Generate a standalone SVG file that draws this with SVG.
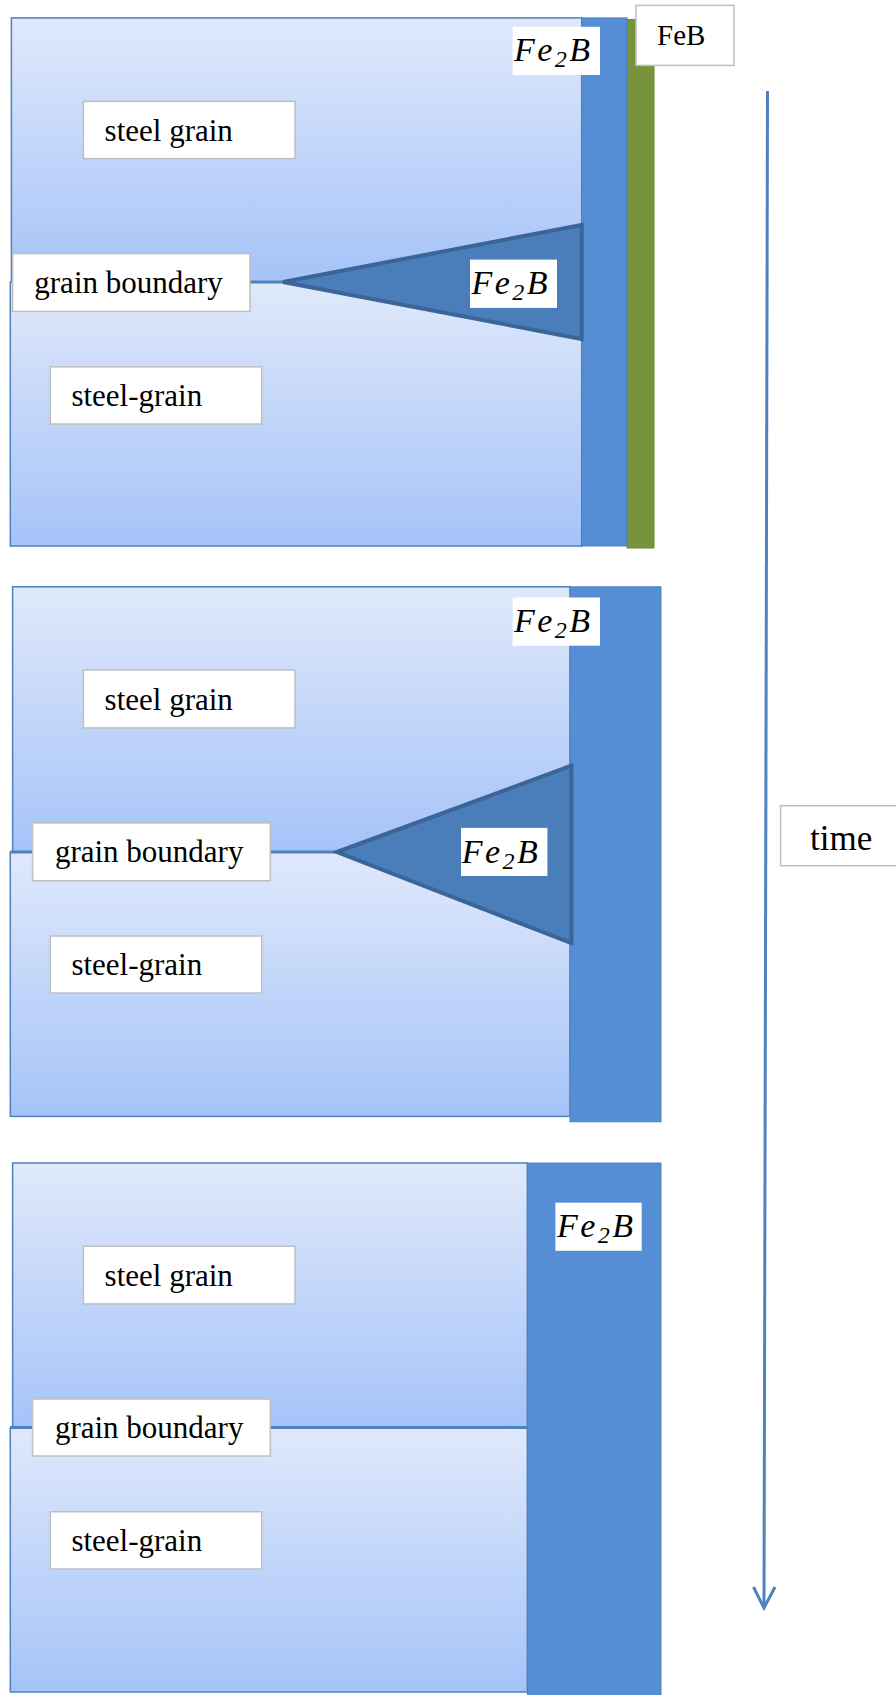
<svg xmlns="http://www.w3.org/2000/svg" width="896" height="1695" viewBox="0 0 896 1695">
<defs>
<linearGradient id="grain" x1="0" y1="0" x2="0" y2="1">
<stop offset="0" stop-color="#e0e9fb"/>
<stop offset="1" stop-color="#a5c3f8"/>
</linearGradient>
<style>
.grain{fill:url(#grain);stroke:#4f81bd;stroke-width:1.5}
.fe2b{fill:#558ed5;stroke:#4f81bd;stroke-width:1}
.feb{fill:#77933c;stroke:#6a8535;stroke-width:1}
.tri{fill:#4a7ebb;stroke:#3b6497;stroke-width:4;stroke-linejoin:miter}
.box{fill:#ffffff;stroke:#bfbfbf;stroke-width:1.5}
.wbox{fill:#ffffff;stroke:none}
.lbl{font-family:"Liberation Serif","Times New Roman",serif;font-size:31px;fill:#000}
.math{font-family:"Liberation Serif","Times New Roman",serif;font-style:italic;font-size:34px;letter-spacing:2.5px;fill:#000}
.sub{font-size:24px}
.gb{stroke:#4f81bd;stroke-width:3;fill:none}
.conn{stroke:#4f81bd;stroke-width:3;fill:none}
</style>
</defs>

<g id="panel1">
<rect class="grain" x="11.4" y="17.9" width="570.3" height="264.1"/>
<rect class="grain" x="10.3" y="282" width="571.4" height="264"/>
<rect class="feb" x="627" y="19.6" width="27" height="528.4"/>
<rect class="fe2b" x="581.7" y="17.9" width="45.3" height="528.1"/>
<line class="gb" x1="250" y1="282" x2="283" y2="282"/>
<polygon class="tri" points="283,282 581.7,225 581.7,339"/>
</g>

<g id="panel2">
<rect class="grain" x="12.6" y="586.8" width="557.4" height="265.2"/>
<rect class="grain" x="10.3" y="852" width="559.7" height="264.4"/>
<rect class="fe2b" x="570" y="586.8" width="91" height="535"/>
<line class="gb" x1="10.3" y1="852" x2="337" y2="852"/>
<polygon class="tri" points="337,852 571.4,765.7 571.4,943.2"/>
</g>

<g id="panel3">
<rect class="grain" x="12.6" y="1163" width="514.8" height="264.4"/>
<rect class="grain" x="10.3" y="1427.4" width="517.1" height="264.6"/>
<rect class="fe2b" x="527.4" y="1163" width="133.6" height="534"/>
<line class="gb" x1="10.3" y1="1427.4" x2="527.4" y2="1427.4"/>
</g>

<g id="connectors">
<line class="conn" x1="767.5" y1="91" x2="764" y2="1606"/>
<polyline class="conn" points="753.5,1587 764,1608 775,1587"/>
</g>

<g id="label-feb">
<rect class="box" x="636" y="5.4" width="98" height="60"/>
<text class="lbl" x="657" y="44.6" style="font-size:29px">FeB</text>
</g>
<g id="label-time">
<rect class="box" x="780.6" y="805.7" width="130" height="60"/>
<text class="lbl" x="810" y="849.6" style="font-size:35px">time</text>
</g>

<g id="p1-fe2b-top">
<rect class="wbox" x="512.6" y="26.8" width="87.4" height="48.2"/>
<text class="math" x="514" y="61.4">Fe<tspan class="sub" dy="6">2</tspan><tspan dy="-6">B</tspan></text>
</g>
<g id="p1-steel-grain">
<rect class="box" x="83.4" y="101.4" width="211.6" height="57.2"/>
<text class="lbl" x="104.6" y="141">steel grain</text>
</g>
<g id="p1-grain-boundary">
<rect class="box" x="12.6" y="253.6" width="237.4" height="57.8"/>
<text class="lbl" x="34.3" y="293">grain boundary</text>
</g>
<g id="p1-fe2b-tri">
<rect class="wbox" x="470" y="259.6" width="87" height="48.3"/>
<text class="math" x="471.4" y="294">Fe<tspan class="sub" dy="6">2</tspan><tspan dy="-6">B</tspan></text>
</g>
<g id="p1-steel-grain2">
<rect class="box" x="50.3" y="366.8" width="211.4" height="57.2"/>
<text class="lbl" x="71.4" y="406">steel-grain</text>
</g>

<g id="p2-fe2b-top">
<rect class="wbox" x="512.6" y="597.5" width="87.4" height="48.2"/>
<text class="math" x="514" y="632">Fe<tspan class="sub" dy="6">2</tspan><tspan dy="-6">B</tspan></text>
</g>
<g id="p2-steel-grain">
<rect class="box" x="83.4" y="670" width="211.6" height="57.9"/>
<text class="lbl" x="104.6" y="709.5">steel grain</text>
</g>
<g id="p2-grain-boundary">
<rect class="box" x="32.6" y="822.9" width="237.7" height="57.8"/>
<text class="lbl" x="54.9" y="862.3">grain boundary</text>
</g>
<g id="p2-fe2b-tri">
<rect class="wbox" x="461" y="827.9" width="86.4" height="48.1"/>
<text class="math" x="461.7" y="862.5">Fe<tspan class="sub" dy="6">2</tspan><tspan dy="-6">B</tspan></text>
</g>
<g id="p2-steel-grain2">
<rect class="box" x="50.3" y="936" width="211.4" height="57"/>
<text class="lbl" x="71.4" y="975">steel-grain</text>
</g>

<g id="p3-fe2b">
<rect class="wbox" x="555.4" y="1202.7" width="86.3" height="48.1"/>
<text class="math" x="557" y="1237.2">Fe<tspan class="sub" dy="6">2</tspan><tspan dy="-6">B</tspan></text>
</g>
<g id="p3-steel-grain">
<rect class="box" x="83.4" y="1246.2" width="211.6" height="57.7"/>
<text class="lbl" x="104.6" y="1285.5">steel grain</text>
</g>
<g id="p3-grain-boundary">
<rect class="box" x="32.6" y="1399" width="237.7" height="57"/>
<text class="lbl" x="54.9" y="1438">grain boundary</text>
</g>
<g id="p3-steel-grain2">
<rect class="box" x="50.3" y="1511.7" width="211.4" height="57.3"/>
<text class="lbl" x="71.4" y="1551">steel-grain</text>
</g>
</svg>
